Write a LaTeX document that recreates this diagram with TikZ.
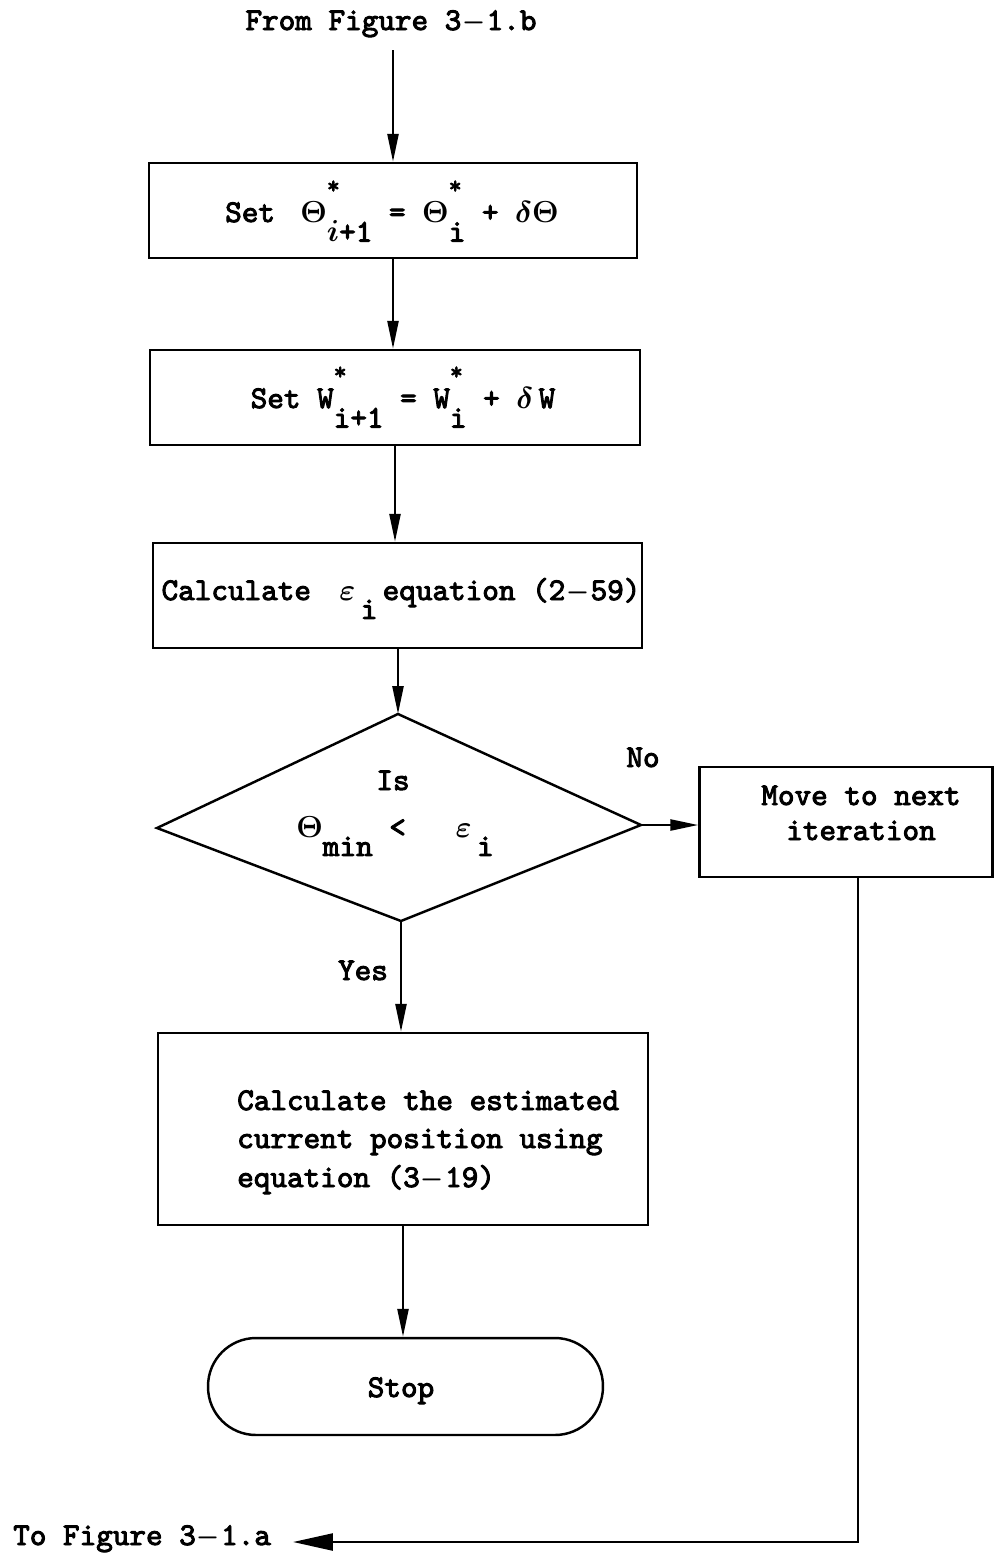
\documentclass[tikz,border=0pt]{standalone}
\usepackage{fontspec}
\newfontfamily\plotfont{lmmono10-regular.otf}[FakeBold=3]
\usetikzlibrary{arrows.meta}
\newcommand\stsub[1]{\rlap{\raisebox{0.9em}{\fontsize{14}{14}\selectfont *}}\raisebox{-0.62em}{#1}}
\newcommand\lsub[1]{\raisebox{-0.6em}{#1}}
\newcommand\dsh{\makebox[0.8em]{\scalebox{0.85}[1]{$-$}}}
\begin{document}
\begin{tikzpicture}[x=0.02cm,y=-0.02cm,line width=1.4pt,
  box/.style={draw,rectangle,inner sep=0pt},
  txt/.style={font=\plotfont\boldmath\fontsize{18}{22}\selectfont,inner sep=0pt,anchor=base},
  txtw/.style={txt,anchor=base west},
  arr/.style={-{Triangle[length=0.56cm,width=0.22cm]}},
  bigarr/.style={-{Triangle[length=0.8cm,width=0.34cm]}}]
\useasboundingbox (0,0) rectangle (994,1560);
% boxes
\node[box,minimum width=9.76cm,minimum height=1.9cm] (b1) at (393,210.5) {};
\node[box,minimum width=9.8cm,minimum height=1.9cm] (b2) at (395,397.5) {};
\node[box,minimum width=9.78cm,minimum height=2.1cm] (b3) at (397.5,595.5) {};
\coordinate (dT) at (398,714);
\coordinate (dL) at (157,828);
\coordinate (dR) at (641,825);
\coordinate (dB) at (401,921);
\draw (dT) -- (dR) -- (dB) -- (dL) -- cycle;
\node[box,minimum width=5.86cm,minimum height=2.2cm] (b4) at (846,822) {};
\node[box,minimum width=9.8cm,minimum height=3.84cm] (b5) at (403,1129) {};
\node[box,rounded corners=0.96cm,minimum width=7.9cm,minimum height=1.94cm] (stop) at (405.5,1386.5) {};
% texts
\node[txt] (from) at (391,30) {From Figure 3\dsh 1.b};
\node[txt] (t1) at (392,222) {Set\hspace{0.8em}$\Theta$\stsub{$i$+1} = $\Theta$\stsub{i} + $\delta\Theta$};
\node[txt] (t2) at (403,408) {Set W\stsub{i+1} = W\stsub{i} + $\delta$\,W};
\node[txt] (t3) at (401,600) {Calculate\hspace{0.9em}$\varepsilon$\,\lsub{i}\,equation (2\dsh 59)};
\node[txt] (is) at (393,790) {Is};
\node[txt] (cond) at (395,837) {$\Theta$\lsub{min} <~~~$\varepsilon$\,\lsub{i}};
\node[txt] (no) at (643,767) {No};
\node[txt] (t4a) at (861,805) {Move to next};
\node[txt] (t4b) at (861,840) {iteration};
\node[txt] (yes) at (363,980) {Yes};
\node[txtw] (t5a) at (236,1110) {Calculate the estimated};
\node[txtw] (t5b) at (236,1148) {current position using};
\node[txtw] (t5c) at (236,1187) {equation (3\dsh 19)};
\node[txt] (stoptxt) at (401,1397) {Stop};
\node[txtw] (to) at (12,1545) {To Figure 3\dsh 1.a};
% connectors
\coordinate (fromend) at (393,50);
\draw[arr] (fromend) -- (b1.north);
\draw[arr] (b1.south) -- (b1.south |- b2.north);
\draw[arr] (b2.south) -- (b2.south |- b3.north);
\draw[arr] (b3.south -| dT) -- (dT);
\draw[arr] (dR) -- (dR -| b4.west);
\draw[arr] (dB) -- (dB |- b5.north);
\draw[arr] (b5.south) -- (b5.south |- stop.north);
\coordinate (corner) at (858,1542);
\coordinate (toend) at (293,1542);
\draw[bigarr] (b4.south -| corner) -- (corner) -- (toend);
\end{tikzpicture}
\end{document}
